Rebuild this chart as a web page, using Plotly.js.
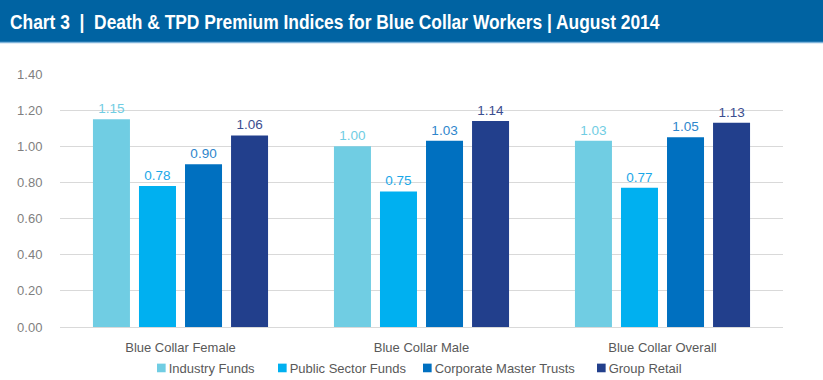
<!DOCTYPE html>
<html>
<head>
<meta charset="utf-8">
<script src="https://cdn.plot.ly/plotly-3.0.1.min.js"></script>
<style>html,body{margin:0;padding:0;background:#fff;}#chart{width:823px;height:380px;}</style>
</head>
<body>
<div id="chart"></div>
<script>
var categories = ["Blue Collar Female", "Blue Collar Male", "Blue Collar Overall"];
var seriesNames = ["Industry Funds", "Public Sector Funds", "Corporate Master Trusts", "Group Retail"];
var industryFunds = [1.15, 1.00, 1.03];
var publicSectorFunds = [0.78, 0.75, 0.77];
var corporateMasterTrusts = [0.90, 1.03, 1.05];
var groupRetail = [1.06, 1.14, 1.13];
var yTicks = [0, 0.2, 0.4, 0.6, 0.8, 1.0, 1.2, 1.4];
var chartTitle = "Chart 3  |  Death &amp; TPD Premium Indices for Blue Collar Workers | August 2014";

var colors = ["#70CDE3", "#00B0F0", "#0070C0", "#223F8C"];
var labelColors = ["#70CDE3", "#1AA7E8", "#2E86CC", "#3B4E8F"];
var values = [industryFunds, publicSectorFunds, corporateMasterTrusts, groupRetail];

var traces = values.map(function (v, i) {
  return {
    type: "bar",
    name: seriesNames[i],
    x: categories,
    y: v,
    marker: {color: colors[i]},
    text: v.map(function (d) { return d.toFixed(2); }),
    textposition: "outside",
    cliponaxis: false,
    textfont: {family: "Liberation Sans, Arial, sans-serif", size: 13.5, color: labelColors[i]},
    hoverinfo: "skip"
  };
});

var L = 60, R = 783, T = 74, B = 327, W = 823, H = 380;
var pw = R - L, ph = B - T;

var layout = {
  width: W, height: H,
  margin: {l: L, r: W - R, t: T, b: H - B, pad: 0, autoexpand: false},
  paper_bgcolor: "#ffffff",
  plot_bgcolor: "#ffffff",
  barmode: "group",
  bargap: 0.236,
  bargroupgap: 0.196,
  font: {family: "Liberation Sans, Arial, sans-serif", size: 12.5, color: "#595959"},
  title: {
    text: chartTitle,
    font: {family: "Liberation Sans Narrow, Arial Narrow, Liberation Sans, sans-serif", size: 19.5, color: "#ffffff", weight: "bold"},
    x: 10 / W, xanchor: "left", xref: "container",
    y: 1 - 22 / H, yanchor: "middle", yref: "container",
    automargin: false
  },
  shapes: [
    {type: "rect", xref: "paper", yref: "paper",
     x0: -L / pw, x1: (W - L) / pw, y0: (B - 42) / ph, y1: B / ph + 0.01,
     fillcolor: "#0063A2", line: {width: 0}, layer: "below"},
    {type: "line", xref: "paper", yref: "paper",
     x0: -L / pw, x1: (W - L) / pw, y0: (B - 42.5) / ph, y1: (B - 42.5) / ph,
     line: {color: "#7FB4DA", width: 1.5}}
  ],
  xaxis: {
    type: "category",
    showgrid: false,
    showline: false,
    zeroline: false,
    ticks: "outside",
    ticklen: 8,
    tickcolor: "rgba(0,0,0,0)",
    tickfont: {size: 13, color: "#595959"},
    automargin: false,
    fixedrange: true
  },
  yaxis: {
    range: [0, 1.4],
    tickvals: yTicks,
    ticktext: yTicks.map(function (d) { return d.toFixed(2); }),
    showgrid: true,
    gridcolor: "#D9D9D9",
    gridwidth: 1,
    zeroline: true,
    zerolinecolor: "#D9D9D9",
    zerolinewidth: 1,
    showline: false,
    ticks: "outside",
    ticklen: 14,
    tickcolor: "rgba(0,0,0,0)",
    tickfont: {size: 13, color: "#7F7F7F"},
    automargin: false,
    fixedrange: true
  },
  showlegend: true,
  legend: {
    orientation: "h",
    x: 0.5, xanchor: "center",
    y: (B - 368) / ph, yanchor: "middle",
    font: {size: 13, color: "#595959"},
    itemwidth: 30,
    traceorder: "normal",
    bgcolor: "rgba(0,0,0,0)"
  }
};

// Legend entry layout (left edge of each swatch, px) to mimic the compact original legend.
var legendSwatchLeft = [157, 278, 423, 597];
var swatchScale = 0.72;
var textGap = 3;

Plotly.newPlot("chart", traces, layout, {displayModeBar: false, staticPlot: true}).then(function (gd) {
  // Condense the title to match the narrow bold face of the original.
  var t = gd.querySelector(".gtitle");
  if (t) {
    var bb = t.getBBox();
    var targetW = 650;
    if (bb.width > targetW) {
      var s = targetW / bb.width;
      var x0 = bb.x;
      t.setAttribute("transform", "translate(" + x0 + ",0) scale(" + s + ",1) translate(" + (-x0) + ",0)");
    }
  }
  // Compact legend entries.
  var sb = gd.querySelector(".legend .scrollbox");
  if (sb) sb.removeAttribute("clip-path");
  var items = gd.querySelectorAll(".legend .traces");
  items.forEach(function (g, i) {
    var p = g.querySelector(".legendpoints path");
    var txt = g.querySelector(".legendtext");
    if (!p || !txt) return;
    var pt = p.getAttribute("transform") || "";
    p.setAttribute("transform", pt + " scale(" + swatchScale + ")");
    var pr = p.getBoundingClientRect();
    var tr = txt.getBoundingClientRect();
    var cx = parseFloat(txt.getAttribute("x")) || 0;
    txt.setAttribute("x", cx - (tr.left - (pr.right + textGap)));
    var m = /translate\(\s*([-\d.e]+)[ ,]\s*([-\d.e]+)\s*\)/.exec(g.getAttribute("transform") || "");
    var gx = m ? parseFloat(m[1]) : 0, gy = m ? parseFloat(m[2]) : 0;
    var dx = legendSwatchLeft[i] - pr.left;
    g.setAttribute("transform", "translate(" + (gx + dx) + "," + gy + ")");
  });
});
</script>
</body>
</html>
